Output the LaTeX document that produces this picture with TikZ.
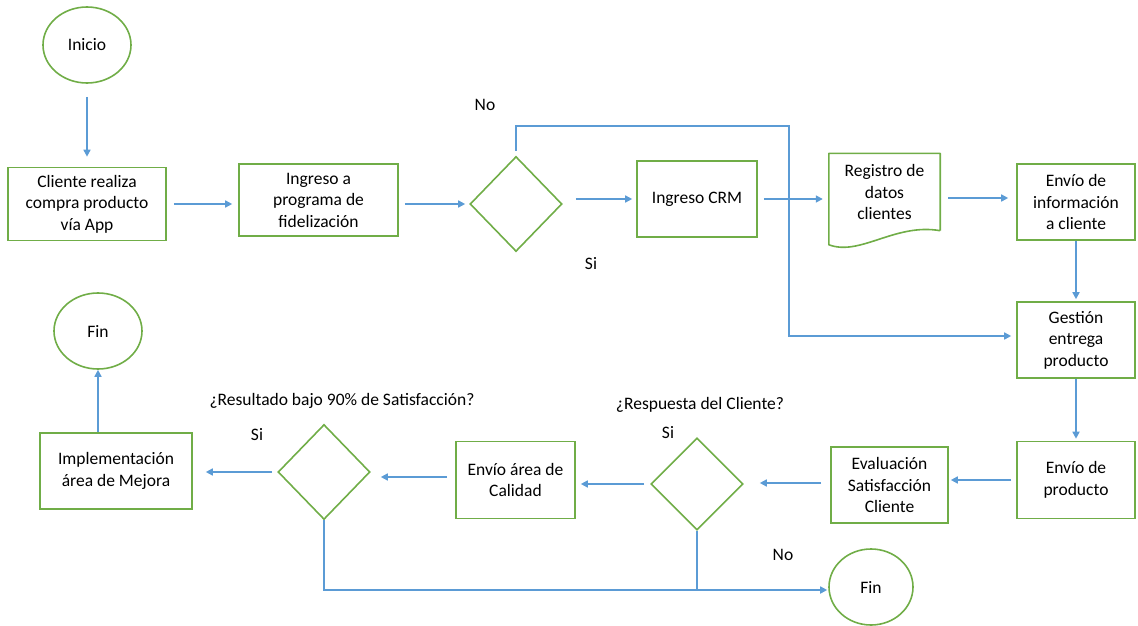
\documentclass[tikz,border=0pt]{standalone}
\usepackage{fontspec}
\setmainfont{Carlito}
\usetikzlibrary{shapes.geometric,arrows.meta}
\definecolor{boxgreen}{HTML}{70AD47}
\definecolor{lineblue}{HTML}{5B9BD5}

\begin{document}
\begin{tikzpicture}[x=1pt,y=-1pt,font=\fontsize{17.5}{21.5}\selectfont]
      \tikzstyle proc=[draw=boxgreen, line width=1.6pt, align=center, inner sep=0pt]
      \tikzstyle term=[proc, ellipse, minimum width=88pt, minimum height=76pt]
      \tikzstyle decision=[draw=boxgreen, line width=1.6pt, diamond, inner sep=0pt,
      minimum width=92pt, minimum height=95pt]
      \tikzstyle flow=[draw=lineblue, line width=1.6pt,
      -{Triangle[length=7pt,width=7pt]}, shorten <=6pt, shorten >=6pt]
      \tikzstyle wire=[draw=lineblue, line width=1.6pt]
      \useasboundingbox (0,0) rectangle (1138,626);
      % upper row
      \node [term] (inicio) at (87,45) {Inicio};
      \node [proc, minimum width=158pt, minimum height=73pt] (compra) at (87,204) {Cliente realiza\\compra producto\\vía App};
      \node [proc, minimum width=159pt, minimum height=72pt] (fidel) at (318.5,200) {Ingreso a\\programa de\\fidelización};
      \node [decision] (pregfidel) at (516,204) {};
      \node [proc, minimum width=120pt, minimum height=76pt] (crm) at (697,199) {Ingreso CRM};
      \node [align=center, inner sep=0pt, minimum width=111pt, minimum height=77pt] (registro) at (884.5,192) {Registro de\\datos\\clientes};
      \draw [draw=boxgreen, line width=1.6pt, line join=round] (registro.south east) -- (registro.north east) -- (registro.north west)
        -- ([yshift=-14pt]registro.south west) .. controls +(31,12) and +(-45,-8) .. (registro.south east);
      \node [proc, minimum width=118pt, minimum height=76pt] (info) at (1076,202) {Envío de\\información\\a cliente};
      \node [proc, minimum width=118pt, minimum height=76pt] (gestion) at (1076,340) {Gestión\\entrega\\producto};
      % lower row
      \node [proc, minimum width=118pt, minimum height=77pt] (envprod) at (1076,480) {Envío de\\producto};
      \node [proc, minimum width=117pt, minimum height=76pt] (evalua) at (889.5,485) {Evaluación\\Satisfacción\\Cliente};
      \node [decision, minimum height=92pt] (pregresp) at (697,484) {};
      \node [proc, minimum width=119pt, minimum height=77pt] (calidad) at (515.5,480) {Envío área de\\Calidad};
      \node [decision] (pregsatis) at (324,472) {};
      \node [proc, minimum width=152pt, minimum height=76pt] (mejora) at (116,471) {Implementación\\área de Mejora};
      \node [term] (finmejora) at (98,331) {Fin};
      \node [term, minimum width=84pt] (finno) at (871,587) {Fin};
      % labels
      \node (lblno) at (485,105) {No};
      \node (lblsi) at (591,264) {Si};
      \node (lblresp) at (700,405) {¿Respuesta del Cliente?};
      \node (lblsiresp) at (668,433) {Si};
      \node (lblsatis) at (342,401) {¿Resultado bajo 90\% de Satisfacción?};
      \node (lblsisatis) at (257,435) {Si};
      \node (lblnoresp) at (783,555) {No};
      % connectors
      \coordinate (noturn) at (789,126);
      \coordinate (finjoin) at ([yshift=-3pt]finno.west);
      \draw [flow, shorten <=13pt, shorten >=10pt] (inicio) -- (compra);
      \draw [flow, shorten <=7pt] (compra) -- (fidel.west |- compra.east);
      \draw [flow, shorten >=4pt] (fidel.east |- pregfidel.west) -- (pregfidel.west);
      \draw [flow, shorten <=13pt, shorten >=4pt] (pregfidel.east |- crm.west) -- (crm.west);
      \draw [flow] (crm.east) -- (crm.east -| registro.west);
      \draw [flow, shorten <=8pt, shorten >=8pt] ([yshift=-6pt]registro.east) -- ([yshift=-6pt]registro.east -| info.west);
      \draw [flow, shorten <=5pt, shorten >=5pt] (pregfidel.north) |- (noturn) |- ([yshift=4pt]gestion.west);
      \draw [flow, shorten <=0pt, shorten >=2pt] (info) -- (gestion);
      \draw [flow, shorten <=0pt, shorten >=2pt] (gestion) -- (envprod);
      \draw [flow, shorten <=5pt, shorten >=2pt] (envprod.west) -- (envprod.west -| evalua.east);
      \draw [flow, shorten <=9pt, shorten >=16pt] ([yshift=2pt]evalua.west) -- ([yshift=2pt]evalua.west -| pregresp.east);
      \draw [flow, shorten >=5pt] (pregresp.west) -- (pregresp.west -| calidad.east);
      \draw [flow, shorten <=8pt, shorten >=10pt] ([yshift=3pt]calidad.west) -- ([yshift=3pt]calidad.west -| pregsatis.east);
      \draw [flow, shorten <=5pt, shorten >=13pt] (pregsatis.west) -- (pregsatis.west -| mejora.east);
      \draw [flow, shorten <=0pt, shorten >=0pt] (finmejora.south |- mejora.north) -- (finmejora.south);
      \draw [flow, shorten <=0pt, shorten >=1pt] (pregsatis.south) |- (finjoin);
      \draw [wire] (pregresp.south) -- (pregresp.south |- finjoin);
\end{tikzpicture}
\end{document}
